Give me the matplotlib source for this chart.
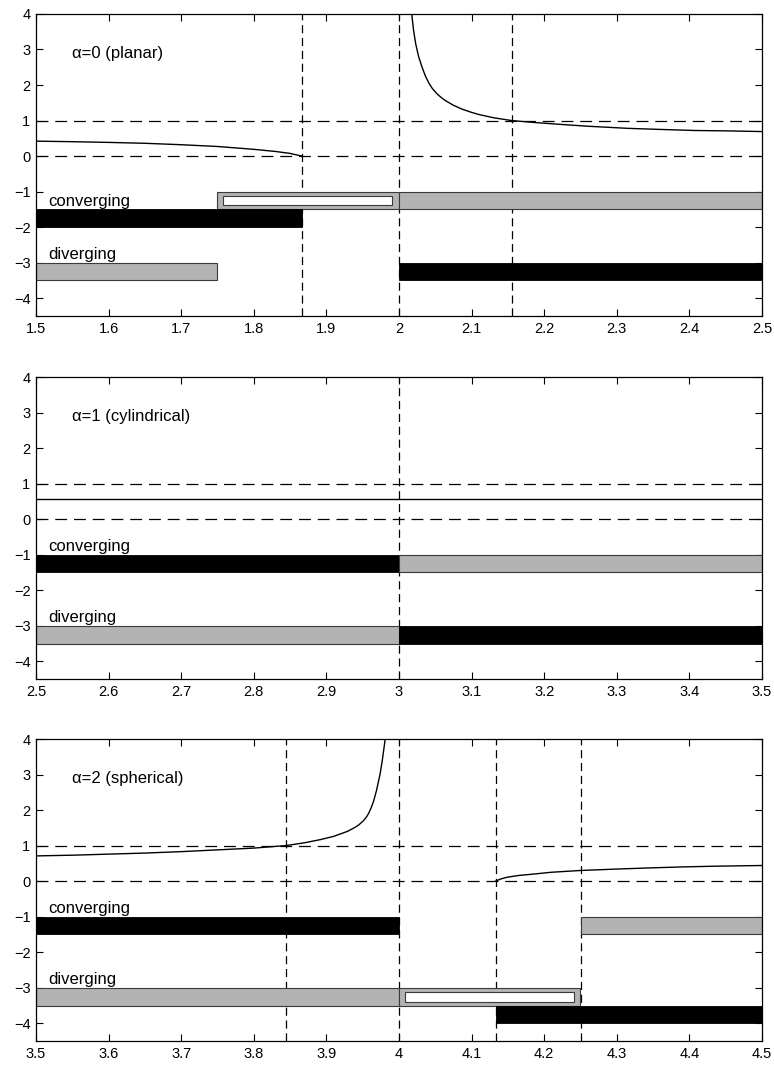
import matplotlib
matplotlib.use("Agg")
import matplotlib.pyplot as plt
from matplotlib.ticker import FormatStrFormatter, MultipleLocator

plt.rcParams['font.family'] = ['Liberation Sans', 'DejaVu Sans']

# ---- data ----
titles = ["\u03b1=0 (planar)", "\u03b1=1 (cylindrical)", "\u03b1=2 (spherical)"]
xranges = [(1.5, 2.5), (2.5, 3.5), (3.5, 4.5)]

# curves (one or two branches per panel)
p1_left_x = [1.5, 1.55, 1.6, 1.65, 1.7, 1.75, 1.8, 1.83, 1.85, 1.866]
p1_left_y = [0.42, 0.405, 0.385, 0.36, 0.32, 0.27, 0.19, 0.13, 0.075, 0.0]
p1_right_x = [2.0175, 2.02, 2.023, 2.027, 2.032, 2.036, 2.041, 2.046, 2.052, 2.058,
              2.064, 2.075, 2.087, 2.1, 2.11, 2.13, 2.155, 2.19, 2.224, 2.26,
              2.316, 2.36, 2.408, 2.45, 2.5]
p1_right_y = [4.0, 3.55, 3.16, 2.8, 2.49, 2.27, 2.06, 1.90, 1.76, 1.65,
              1.56, 1.43, 1.32, 1.23, 1.17, 1.08, 1.0, 0.94, 0.89, 0.84,
              0.78, 0.75, 0.72, 0.71, 0.69]
p2_x = [2.5, 3.5]
p2_y = [0.56, 0.56]
p3_left_x = [3.5, 3.55, 3.6, 3.65, 3.7, 3.75, 3.8, 3.844, 3.87, 3.892, 3.91,
             3.929, 3.94, 3.945, 3.951, 3.955, 3.958, 3.962, 3.965, 3.969,
             3.974, 3.977, 3.981]
p3_left_y = [0.71, 0.73, 0.76, 0.79, 0.83, 0.88, 0.93, 1.0, 1.08, 1.17, 1.26,
             1.40, 1.52, 1.59, 1.70, 1.80, 1.90, 2.08, 2.25, 2.55,
             3.02, 3.40, 4.0]
p3_right_x = [4.133, 4.14, 4.149, 4.165, 4.181, 4.21, 4.25, 4.3, 4.342, 4.39, 4.434, 4.5]
p3_right_y = [0.0, 0.06, 0.11, 0.16, 0.19, 0.25, 0.30, 0.34, 0.37, 0.40, 0.42, 0.44]

curves = [
    [(p1_left_x, p1_left_y), (p1_right_x, p1_right_y)],
    [(p2_x, p2_y)],
    [(p3_left_x, p3_left_y), (p3_right_x, p3_right_y)],
]

# vertical dashed markers
vlines = [[1.866, 2.0, 2.155], [3.0], [3.845, 4.0, 4.133, 4.25]]
hlines = [0, 1]

# bars: (x_start, x_end, y_bottom, kind)  kind: 'black', 'gray', 'hollow'
bars = [
    [(1.75, 2.0, -1.5, 'hollow'), (2.0, 2.5, -1.5, 'gray'), (1.5, 1.866, -2.0, 'black'),
     (1.5, 1.75, -3.5, 'gray'), (2.0, 2.5, -3.5, 'black')],
    [(2.5, 3.0, -1.5, 'black'), (3.0, 3.5, -1.5, 'gray'),
     (2.5, 3.0, -3.5, 'gray'), (3.0, 3.5, -3.5, 'black')],
    [(3.5, 4.0, -1.5, 'black'), (4.25, 4.5, -1.5, 'gray'),
     (3.5, 4.0, -3.5, 'gray'), (4.0, 4.25, -3.5, 'hollow'), (4.133, 4.5, -4.0, 'black')],
]
conv_label_y = [-1.4, -0.9, -0.9]
div_label_y = [-2.9, -2.9, -2.9]

GRAY = '#b3b3b3'
EDGE = '#3a3a3a'

fig = plt.figure(figsize=(7.74, 10.65), dpi=100)
bottoms = [0.7033, 0.3624, 0.0225]

for i in range(3):
    ax = fig.add_axes([0.0465, bottoms[i], 0.938, 0.2836])
    x0, x1 = xranges[i]
    ax.set_xlim(x0, x1)
    ax.set_ylim(-4.5, 4)

    for h in hlines:
        ax.axhline(h, color='black', lw=0.9, linestyle=(0, (9.5, 5.5)), zorder=1)
    for v in vlines[i]:
        ax.axvline(v, color='black', lw=0.9, linestyle=(0, (6.5, 3.8)), zorder=1)

    for xs, xe, yb, kind in bars[i]:
        if kind == 'black':
            ax.barh(yb + 0.25, xe - xs, left=xs, height=0.5, color='black',
                    edgecolor='black', lw=0.6, zorder=2)
        else:
            ax.barh(yb + 0.25, xe - xs, left=xs, height=0.5, color=GRAY,
                    edgecolor=EDGE, lw=0.8, zorder=2)
            if kind == 'hollow':
                ax.barh(yb + 0.25, xe - xs - 0.017, left=xs + 0.008, height=0.28,
                        color='white', edgecolor=EDGE, lw=0.8, zorder=3)

    for cx, cy in curves[i]:
        ax.plot(cx, cy, color='black', lw=1.0, zorder=4, clip_on=True)

    ax.text(x0 + 0.049, 2.9, titles[i], fontsize=12, va='center', ha='left')
    ax.text(x0 + 0.017, conv_label_y[i], 'converging', fontsize=12, va='baseline', ha='left', zorder=5)
    ax.text(x0 + 0.017, div_label_y[i], 'diverging', fontsize=12, va='baseline', ha='left', zorder=5)

    ax.xaxis.set_major_locator(MultipleLocator(0.1))
    ax.xaxis.set_major_formatter(FormatStrFormatter('%g'))
    ax.set_yticks(range(-4, 5))
    ax.tick_params(direction='in', top=True, right=True, length=5, width=0.8,
                   labelsize=10.5, pad=4)
    for s in ax.spines.values():
        s.set_linewidth(0.9)

fig.savefig('out.png', dpi=100)
